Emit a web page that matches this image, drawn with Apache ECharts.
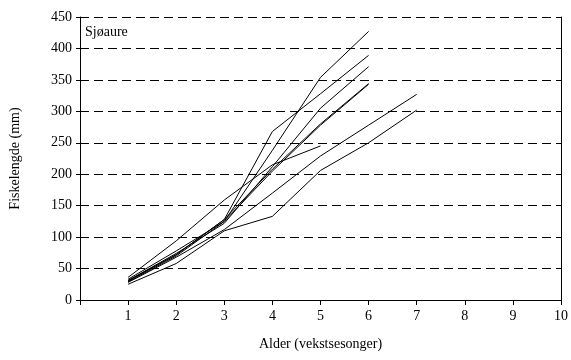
<!DOCTYPE html>
<html><head><meta charset="utf-8">
<script src="https://cdn.jsdelivr.net/npm/echarts@6/dist/echarts.min.js"></script>
<style>html,body{margin:0;padding:0;background:#fff}#c{width:571px;height:360px}</style>
</head><body><div id="c"></div>
<script>
const ages = [1, 2, 3, 4, 5, 6, 7];
const fish1 = [33, 78, 125, 238, 354, 427];
const fish2 = [30, 72, 128, 268, 328, 389];
const fish3 = [31, 74, 122, 212, 305, 371];
const fish4 = [29, 70, 125, 205, 278, 343];
const fish5 = [31, 72, 128, 208, 280, 344];
const fish6 = [28, 68, 112, 170, 229, 278, 327];
const fish7 = [25, 58, 110, 133, 206, 250, 302];
const fish8 = [36, 94, 159, 215, 245];
const allFish = [fish1, fish2, fish3, fish4, fish5, fish6, fish7, fish8];
const xTicks = [1, 2, 3, 4, 5, 6, 7, 8, 9, 10];
const yTicks = [0, 50, 100, 150, 200, 250, 300, 350, 400, 450];
const label = 'Sjøaure';

const font = 'Liberation Serif, Times New Roman, serif';
const fs = 14;
const chart = echarts.init(document.getElementById('c'));
chart.setOption({
  animation: false,
  grid: {left: 80, right: 9, top: 17, bottom: 60},
  xAxis: {
    type: 'value', min: 0, max: 10, interval: 1,
    name: 'Alder (vekstsesonger)', nameLocation: 'middle', nameGap: 37,
    nameTextStyle: {color: '#000', fontFamily: font, fontSize: fs},
    axisLine: {lineStyle: {color: '#000', width: 1}},
    axisTick: {show: true, length: 5, lineStyle: {color: '#000'}},
    axisLabel: {color: '#000', fontFamily: font, fontSize: fs, margin: 9,
      formatter: v => xTicks.includes(v) ? String(v) : ''},
    splitLine: {show: false}
  },
  yAxis: [{
    type: 'value', min: 0, max: 450, interval: 50,
    name: 'Fiskelengde (mm)', nameLocation: 'middle', nameGap: 58,
    nameTextStyle: {color: '#000', fontFamily: font, fontSize: fs},
    axisLine: {show: true, lineStyle: {color: '#000', width: 1}},
    axisTick: {show: true, length: 4, lineStyle: {color: '#000'}},
    axisLabel: {color: '#000', fontFamily: font, fontSize: fs, margin: 8,
      formatter: v => yTicks.includes(v) ? String(v) : ''},
    splitLine: {show: true, lineStyle: {color: '#000', width: 1, type: [9, 5]}}
  }, {
    type: 'value', min: 0, max: 450, interval: 50, position: 'right',
    axisLine: {show: true, lineStyle: {color: '#000', width: 1}},
    axisTick: {show: false}, axisLabel: {show: false}, splitLine: {show: false}
  }],
  graphic: [{type: 'text', left: 85, top: 25,
    style: {text: label, fill: '#000', font: fs + 'px ' + font}}],
  series: allFish.map(arr => ({
    type: 'line', yAxisIndex: 0, showSymbol: false, symbol: 'none',
    lineStyle: {color: '#000', width: 1},
    data: arr.map((v, i) => [ages[i], v])
  }))
});
</script></body></html>
